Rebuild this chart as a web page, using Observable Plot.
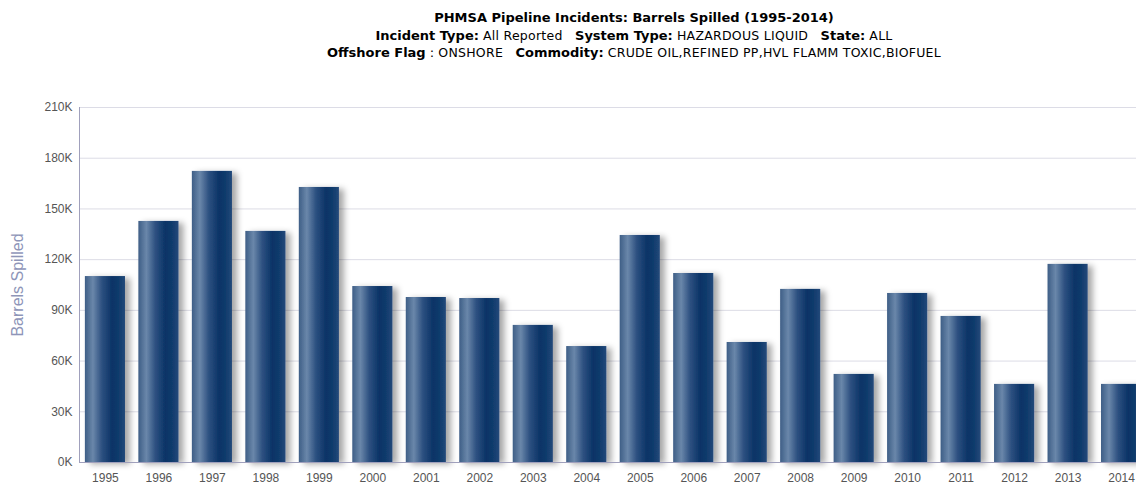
<!DOCTYPE html>
<html>
<head>
<meta charset="utf-8">
<script src="https://cdn.jsdelivr.net/npm/d3@7"></script>
<script src="https://cdn.jsdelivr.net/npm/@observablehq/plot@0.6"></script>
<style>
  html, body { margin: 0; padding: 0; background: #fff; overflow: hidden; width: 1136px; height: 484px; }
  #head { height: 62px; text-align: center; font-family: "DejaVu Sans", sans-serif; font-size: 13px; color: #000; padding-left: 132px; box-sizing: border-box; }
  #head div { line-height: 17.5px; white-space: nowrap; }
  #head .t { font-weight: bold; padding-top: 9px; }
  #head b { font-weight: bold; }
  #head span.v { font-size: 12.5px; letter-spacing: 0.25px; }
  #chart svg { display: block; overflow: visible; max-width: none !important; }
</style>
</head>
<body>
<div id="head">
  <div class="t">PHMSA Pipeline Incidents: Barrels Spilled (1995-2014)</div>
  <div><b>Incident Type:</b> <span class="v">All Reported</span>&nbsp;&nbsp;&nbsp;<b>System Type:</b> <span class="v">HAZARDOUS LIQUID</span>&nbsp;&nbsp;&nbsp;<b>State:</b> <span class="v">ALL</span></div>
  <div><b>Offshore Flag</b> : <span class="v">ONSHORE</span>&nbsp;&nbsp;&nbsp;<b>Commodity:</b> <span class="v">CRUDE OIL,REFINED PP,HVL FLAMM TOXIC,BIOFUEL</span></div>
</div>
<div id="chart"></div>
<script>
const years = ["1995","1996","1997","1998","1999","2000","2001","2002","2003","2004","2005","2006","2007","2008","2009","2010","2011","2012","2013","2014"];
const barrels = [110000,142600,172200,136700,162700,104100,97600,97000,81100,68600,134300,111800,71000,102400,52100,100000,86400,46200,117200,46200];
const yTicks = [0,30000,60000,90000,120000,150000,180000,210000];

const data = years.map((y, i) => ({year: y, value: barrels[i]}));
const fmt = d => (d/1000) + "K";

const plot = Plot.plot({
  width: 1150,
  height: 422,
  marginLeft: 79,
  marginRight: 3,
  marginTop: 45,
  marginBottom: 22,
  style: {fontFamily: "'Liberation Sans', Arial, sans-serif", fontSize: "12px", color: "#555", background: "transparent", maxWidth: "none"},
  x: {domain: years, paddingInner: 0.25, paddingOuter: 0.11, round: false, label: null},
  y: {domain: [0, 210000], ticks: yTicks, tickFormat: fmt, label: null},
  marks: [
    Plot.gridY(yTicks.slice(1), {stroke: "#dcdce6", strokeOpacity: 1}),
    Plot.barY(data, {x: "year", y: "value", fill: "url(#barGrad)"}),
    Plot.axisX({tickSize: 0, tickPadding: 11, label: null, fill: "#555"}),
    Plot.axisY({ticks: yTicks, tickFormat: fmt, tickSize: 0, tickPadding: 7, label: null, fill: "#555"}),
    Plot.text(["Barrels Spilled"], {frameAnchor: "left", textAnchor: "middle", dx: -62, rotate: -90, fill: "#8e95b8", fontSize: 16})
  ]
});

const svg = d3.select(plot);
const defs = svg.insert("defs", ":first-child");
const g = defs.append("linearGradient").attr("id", "barGrad").attr("x1", "0%").attr("x2", "100%").attr("y1", "0%").attr("y2", "0%");
[[0, "#3e5e86"], [0.2, "#6a87aa"], [0.42, "#2e5181"], [0.68, "#0a3366"], [0.85, "#113c6d"], [1, "#24497a"]]
  .forEach(([o, c]) => g.append("stop").attr("offset", o).attr("stop-color", c));
const f = defs.append("filter").attr("id", "shadow").attr("x", "-10%").attr("y", "-10%").attr("width", "140%").attr("height", "130%");
f.append("feDropShadow").attr("dx", 5).attr("dy", 2).attr("stdDeviation", 3).attr("flood-color", "#000").attr("flood-opacity", 0.35);
svg.selectAll("rect").filter(function() { return this.getAttribute("fill") === "url(#barGrad)" || (this.parentNode && this.parentNode.getAttribute("fill") === "url(#barGrad)"); })
  .attr("filter", "url(#shadow)");

// axis lines from the plot's own scales
const xr = plot.scale("x").range, yr = plot.scale("y").range;
const axes = svg.append("g").attr("stroke", "#a0a0bc").attr("shape-rendering", "crispEdges");
axes.append("line").attr("x1", xr[0]).attr("x2", xr[0]).attr("y1", yr[0]).attr("y2", yr[1]);
axes.append("line").attr("x1", xr[0]).attr("x2", xr[1]).attr("y1", yr[0]).attr("y2", yr[0]);

document.getElementById("chart").appendChild(plot);
</script>
</body>
</html>
